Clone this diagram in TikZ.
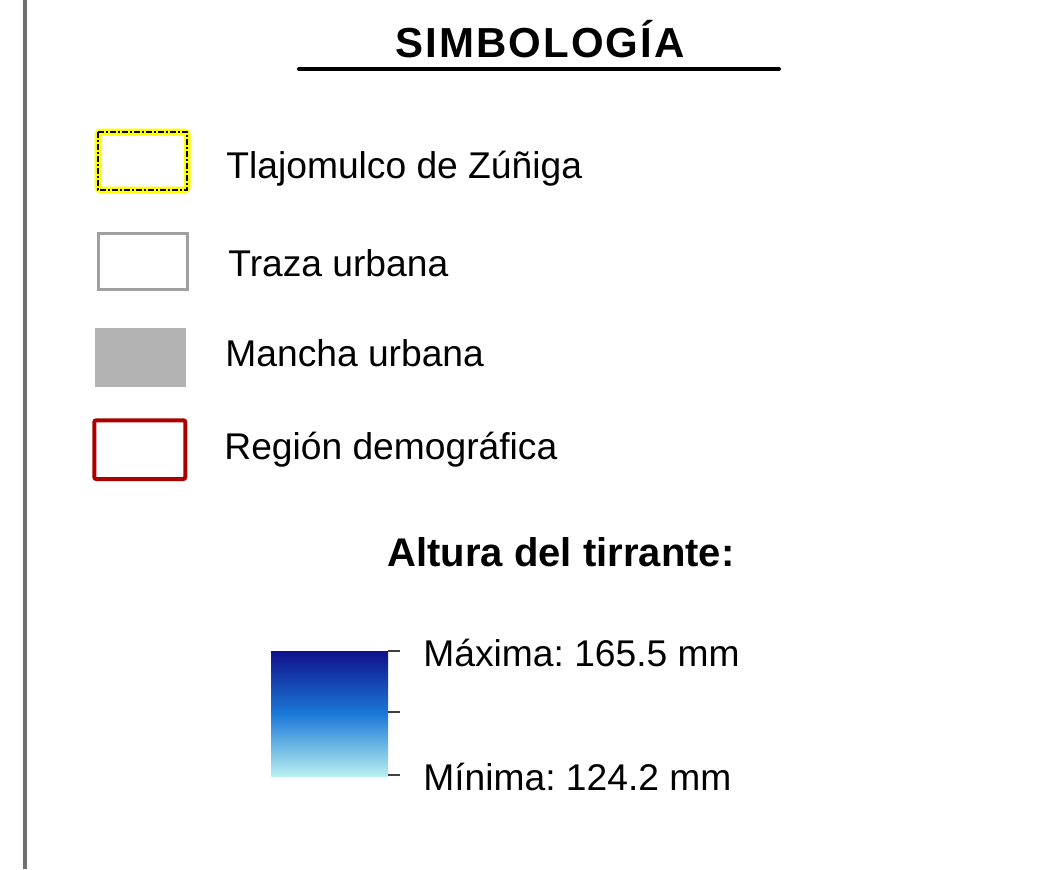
\documentclass[tikz,border=0pt]{standalone}
\usepackage{fontspec}
\setmainfont{Liberation Sans}
\newfontfamily\spacedfont{Liberation Sans}[LetterSpace=5]
\frenchspacing
\definecolor{barGray}{HTML}{6F6F6F}
\definecolor{trazaGray}{HTML}{A0A0A0}
\definecolor{manchaGray}{HTML}{B3B3B3}
\definecolor{regionRed}{HTML}{AA0000}
\definecolor{tlajoYellow}{HTML}{FFFF00}
\definecolor{hTop}{HTML}{10108C}
\definecolor{hMid}{HTML}{1A78D8}
\definecolor{hBot}{HTML}{B8F0F0}

\begin{document}
\begin{tikzpicture}[x=0.5pt, y=-0.5pt]
        \tikzset{Lab/.style={anchor=base west, inner sep=0pt, font=\fontsize{18.6}{22}\selectfont}}
        \tikzset{Head/.style={anchor=base, inner sep=0pt, font=\fontsize{20}{24}\selectfont\bfseries}}
        \tikzset{Tick/.style={draw=black!75, line width=0.7pt}}
        \useasboundingbox (0,0) rectangle (1050,869);

        % frame and title
        \draw[barGray, line width=2.4pt] (25,0) -- (25,869);
        \node[Head, font=\fontsize{21}{25}\selectfont\spacedfont\bfseries] (title) at (540,57) {SIMBOLOGÍA};
        \coordinate (ulA) at (299,69);
        \coordinate (ulB) at (779,69);
        \draw[line width=2pt, line cap=round] (ulA) -- (ulB);

        % symbols
        \draw[tlajoYellow, line width=3.5pt, rounded corners=1.5pt] (98,132) rectangle (187,190);
        \draw[black, line width=0.6pt, dash pattern=on 3pt off 1pt on 1pt off 1pt] (98,132) rectangle (187,190);
        \node[Lab] (tlajo) at (226,178) {Tlajomulco de Zúñiga};

        \draw[trazaGray, line width=1.5pt] (98,233) rectangle (187.5,289.5);
        \node[Lab] (traza) at (228,276) {Traza urbana};

        \fill[manchaGray] (95,328) rectangle (186,386.5);
        \node[Lab] (mancha) at (225,366) {Mancha urbana};

        \draw[regionRed, line width=2pt, rounded corners=1pt] (94.3,420.3) rectangle (185.3,479);
        \node[Lab] (region) at (224,459) {Región demográfica};

        % height scale
        \node[Head] (altura) at (561,566) {Altura del tirrante:};
        \shade[top color=hTop, bottom color=hBot, middle color=hMid] (271,651) rectangle (388,776);
        \coordinate (tMax) at (388,651);
        \coordinate (tMid) at (388,712);
        \coordinate (tMin) at (388,775);
        \draw[Tick] (tMax) -- ++(12,0);
        \draw[Tick] (tMid) -- ++(12,0);
        \draw[Tick] (tMin) -- ++(12,0);
        \node[Lab] (maxima) at (423,666) {Máxima: 165.5 mm};
        \node[Lab] (minima) at (423,790) {Mínima: 124.2 mm};
\end{tikzpicture}
\end{document}
